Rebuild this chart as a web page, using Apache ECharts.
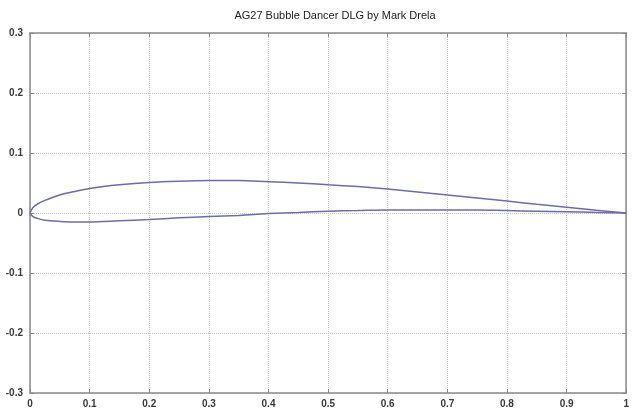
<!DOCTYPE html>
<html>
<head>
<meta charset="utf-8">
<script src="https://cdn.jsdelivr.net/npm/echarts@6/dist/echarts.min.js"></script>
<style>html,body{margin:0;padding:0;background:#fff}#c{width:632px;height:412px}</style>
</head>
<body>
<div id="c"></div>
<script>
const titleText = "AG27 Bubble Dancer DLG by Mark Drela";
const chordX = [0, 0.005, 0.0125, 0.025, 0.05, 0.075, 0.1, 0.15, 0.2, 0.25, 0.3, 0.35, 0.4, 0.45, 0.5, 0.55, 0.6, 0.65, 0.7, 0.75, 0.8, 0.85, 0.9, 0.95, 1];
const upperY = [0, 0.009, 0.015, 0.021, 0.030, 0.036, 0.041, 0.047, 0.051, 0.053, 0.054, 0.054, 0.052, 0.050, 0.047, 0.044, 0.040, 0.035, 0.030, 0.025, 0.020, 0.0145, 0.0095, 0.0045, 0];
const lowerY = [0, -0.006, -0.009, -0.012, -0.014, -0.015, -0.015, -0.013, -0.011, -0.008, -0.006, -0.004, -0.001, 0.001, 0.003, 0.004, 0.005, 0.005, 0.005, 0.005, 0.004, 0.003, 0.002, 0.001, 0];
const xTicks = [0, 0.1, 0.2, 0.3, 0.4, 0.5, 0.6, 0.7, 0.8, 0.9, 1];
const yTicks = [-0.3, -0.2, -0.1, 0, 0.1, 0.2, 0.3];

const chart = echarts.init(document.getElementById('c'), null, {renderer: 'canvas'});
const lineColor = '#6c6cae';
const fmt = v => { const r = Math.round(v * 10) / 10; return r === 0 ? '0' : String(r); };
const labelStyle = {color: '#3a3a3a', fontSize: 10, fontFamily: 'Liberation Sans, Arial, sans-serif', fontWeight: 'bold'};
const axisLineStyle = {onZero: false, lineStyle: {color: '#8a8a8a', width: 1.5}};
const tickStyle = {show: true, inside: true, length: 4, lineStyle: {color: '#8a8a8a'}};
chart.setOption({
  animation: false,
  backgroundColor: '#fff',
  title: {text: titleText, left: 330, textAlign: 'center', top: 5,
    textStyle: {fontSize: 11, fontWeight: 'normal', color: '#222', fontFamily: 'Liberation Sans, Arial, sans-serif'}},
  grid: {left: 30, right: 3, top: 33, bottom: 19},
  xAxis: [{
    type: 'value', min: 0, max: 1, interval: 0.1, position: 'bottom',
    axisLine: axisLineStyle, axisTick: tickStyle,
    axisLabel: Object.assign({formatter: fmt, margin: 6}, labelStyle),
    splitLine: {show: true, lineStyle: {color: '#c8c8c8', type: 'dotted', width: 1}}
  }, {
    type: 'value', min: 0, max: 1, interval: 0.1, position: 'top',
    axisLine: axisLineStyle, axisTick: tickStyle,
    axisLabel: {show: false}, splitLine: {show: false}
  }],
  yAxis: [{
    type: 'value', min: -0.3, max: 0.3, interval: 0.1, position: 'left',
    axisLine: axisLineStyle, axisTick: tickStyle,
    axisLabel: Object.assign({formatter: fmt, margin: 7}, labelStyle),
    splitLine: {show: true, lineStyle: {color: '#c8c8c8', type: 'dotted', width: 1}}
  }, {
    type: 'value', min: -0.3, max: 0.3, interval: 0.1, position: 'right',
    axisLine: axisLineStyle, axisTick: tickStyle,
    axisLabel: {show: false}, splitLine: {show: false}
  }],
  series: [{
    type: 'line', name: 'upper', showSymbol: false, smooth: 0.3,
    data: chordX.map((x, i) => [x, upperY[i]]),
    lineStyle: {color: lineColor, width: 1.5}
  }, {
    type: 'line', name: 'lower', showSymbol: false, smooth: 0.3,
    data: chordX.map((x, i) => [x, lowerY[i]]),
    lineStyle: {color: lineColor, width: 1.5}
  }]
});
</script>
</body>
</html>
